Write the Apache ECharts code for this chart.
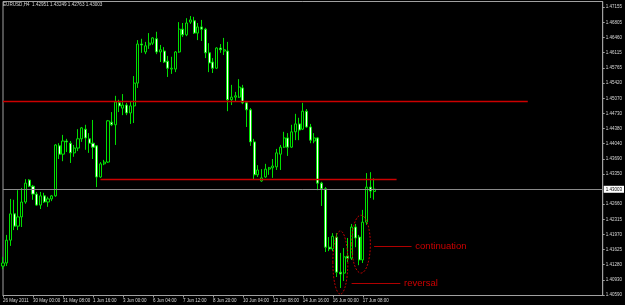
<!DOCTYPE html>
<html><head><meta charset="utf-8">
<script src="https://cdn.jsdelivr.net/npm/echarts@6/dist/echarts.min.js"></script>
<style>html,body{margin:0;padding:0;background:#000;}#c{width:625px;height:305px;}</style>
</head><body><div id="c"></div>
<script>
const symbol = 'EURUSD,H4';
// H4 sessions (day, hours)
const sessions = [
  ['26 May','20'], ['27 May','00 04 08 12 16 20'], ['29 May','20'],
  ['30 May','00 04 08 12 16 20'], ['31 May','00 04 08 12 16 20'], ['1 Jun','00 04 08 12 16 20'],
  ['2 Jun','00 04 08 12 16 20'], ['3 Jun','00 04 08 12 16 20'], ['5 Jun','20'],
  ['6 Jun','00 04 08 12 16 20'], ['7 Jun','00 04 08 12 16 20'], ['8 Jun','00 04 08 12 16 20'],
  ['9 Jun','00 04 08 12 16 20'], ['10 Jun','00 04 08 12 16 20'], ['12 Jun','20'],
  ['13 Jun','00 04 08 12 16 20'], ['14 Jun','00 04 08 12 16 20'], ['15 Jun','00 04 08 12 16 20'],
  ['16 Jun','00 04 08 12 16 20'], ['17 Jun','00 04 08 12 16 20']
];
const xTickLabels = ['26 May 2011','30 May 00:00','31 May 08:00','1 Jun 16:00','3 Jun 00:00','6 Jun 04:00',
  '7 Jun 12:00','8 Jun 20:00','10 Jun 04:00','13 Jun 08:00','14 Jun 16:00','16 Jun 00:00','17 Jun 08:00'];
const yTickLabels = [1.47155,1.46805,1.46460,1.46115,1.45765,1.45420,1.45070,1.44730,1.44380,1.44040,
  1.43690,1.43350,1.42660,1.42315,1.41970,1.41625,1.41280,1.40930,1.40590];

const opens = [
1.4125,1.4132,1.4184,1.4244,1.4216,1.4237,1.4271,1.4321,1.4307,1.4289,
1.4264,1.4285,1.4271,1.4278,1.4285,1.4399,1.4380,1.4410,1.4405,1.4383,
1.4394,1.4415,1.4437,1.4415,1.4405,1.4399,1.4328,1.4358,1.4362,1.4453,
1.4447,1.4497,1.4485,1.4492,1.4474,1.4490,1.4542,1.4631,1.4613,1.4629,
1.4633,1.4643,1.4613,1.4615,1.4592,1.4574,1.4574,1.4613,1.4665,1.4652,
1.4681,1.4684,1.4656,1.4670,1.4665,1.4611,1.4590,1.4576,1.4622,1.4615,
1.4615,1.4504,1.4510,1.4510,1.4531,1.4497,1.4481,1.4408,1.4333,1.4319,
1.4328,1.4346,1.4349,1.4351,1.4380,1.4396,1.4417,1.4396,1.4431,1.4449,
1.4437,1.4478,1.4442,1.4410,1.4417,1.4314,1.4301,1.4168,1.4164,1.4191,
1.4111,1.4109,1.4148,1.4143,1.4214,1.4191,1.4139,1.4225,1.4305,1.42951];
const highs = [
1.4146,1.4196,1.4278,1.4276,1.4298,1.4303,1.4323,1.4323,1.4310,1.4294,
1.4294,1.4292,1.4283,1.4287,1.4403,1.4405,1.4424,1.4415,1.4410,1.4401,
1.4437,1.4442,1.4447,1.4428,1.4458,1.4401,1.4362,1.4367,1.4458,1.4476,
1.4513,1.4504,1.4517,1.4497,1.4501,1.4558,1.4640,1.4643,1.4636,1.4656,
1.4647,1.4659,1.4629,1.4624,1.4604,1.4602,1.4615,1.4681,1.4679,1.4690,
1.4695,1.4693,1.4679,1.4686,1.4668,1.4633,1.4599,1.4624,1.4631,1.4645,
1.4636,1.4538,1.4522,1.4551,1.4538,1.4499,1.4485,1.4415,1.4355,1.4346,
1.4358,1.4351,1.4369,1.4392,1.4401,1.4431,1.4428,1.4447,1.4472,1.4463,
1.4497,1.4483,1.4449,1.4428,1.4419,1.4317,1.4305,1.4191,1.4200,1.4200,
1.4155,1.4166,1.4189,1.4221,1.4221,1.4196,1.4253,1.4337,1.4339,1.43249];
const lows = [
1.4118,1.4125,1.4171,1.4207,1.4207,1.4214,1.4267,1.4305,1.4276,1.4262,
1.4255,1.4269,1.4260,1.4273,1.4283,1.4369,1.4364,1.4385,1.4360,1.4374,
1.4387,1.4408,1.4390,1.4383,1.4369,1.4305,1.4326,1.4355,1.4360,1.4444,
1.4401,1.4476,1.4469,1.4469,1.4449,1.4451,1.4531,1.4611,1.4608,1.4620,
1.4629,1.4608,1.4590,1.4588,1.4556,1.4563,1.4567,1.4611,1.4647,1.4649,
1.4677,1.4654,1.4640,1.4638,1.4599,1.4567,1.4565,1.4574,1.4611,1.4606,
1.4478,1.4492,1.4501,1.4508,1.4494,1.4442,1.4399,1.4323,1.4328,1.4317,
1.4326,1.4333,1.4326,1.4344,1.4344,1.4394,1.4376,1.4394,1.4412,1.4412,
1.4435,1.4440,1.4405,1.4405,1.4298,1.4262,1.4157,1.4159,1.4159,1.4100,
1.4075,1.4091,1.4134,1.4139,1.4168,1.4127,1.4132,1.4219,1.4280,1.42763];
const closes = [
1.4132,1.4184,1.4244,1.4216,1.4237,1.4271,1.4314,1.4307,1.4289,1.4264,
1.4285,1.4271,1.4278,1.4285,1.4401,1.4380,1.4410,1.4408,1.4383,1.4394,
1.4415,1.4440,1.4417,1.4405,1.4396,1.4328,1.4358,1.4362,1.4456,1.4447,
1.4499,1.4490,1.4492,1.4474,1.4490,1.4542,1.4631,1.4629,1.4627,1.4633,
1.4645,1.4613,1.4618,1.4590,1.4576,1.4576,1.4613,1.4665,1.4652,1.4679,
1.4686,1.4656,1.4670,1.4665,1.4611,1.4588,1.4576,1.4622,1.4618,1.4618,
1.4504,1.4510,1.4513,1.4533,1.4497,1.4481,1.4408,1.4333,1.4344,1.4326,
1.4346,1.4349,1.4353,1.4383,1.4396,1.4417,1.4396,1.4431,1.4449,1.4435,
1.4478,1.4442,1.4412,1.4417,1.4314,1.4301,1.4168,1.4164,1.4193,1.4111,
1.4107,1.4146,1.4143,1.4214,1.4189,1.4139,1.4225,1.4305,1.4296,1.43003];

// drawn levels: [startIndex, endIndex, price]
const resistance = [0, 140, 1.4501];
const support = [26, 105, 1.4323];
// annotations
const ellipses = [[88.1, 92.1, 1.4205, 1.4061], [92.9, 97.6, 1.4241, 1.4109]];
const notes = [
  {text: 'continuation', from: 99, to: 109, price: 1.4171, textAt: 109.9},
  {text: 'reversal', from: 92.5, to: 106, price: 1.4086, textAt: 106.6}
];
const totalSlots = 161; // chart shift: empty space on the right

const cats = [];
sessions.forEach(([d, hs]) => hs.split(' ').forEach(h => cats.push(d + ' ' + h + ':00')));
while (cats.length < totalSlots) cats.push('');

const candles = opens.map((o, i) => [o, closes[i], lows[i], highs[i]]);
const n = opens.length;
const bid = closes[n - 1];
const fmt = v => v.toFixed(5);

const chart = echarts.init(document.getElementById('c'), null, {renderer: 'canvas'});
const FONT = 'Liberation Sans';
const RED = '#cc0000';
chart.setOption({
  animation: false,
  backgroundColor: '#000',
  title: {
    text: symbol + '  ' + [opens[n-1], highs[n-1], lows[n-1], closes[n-1]].map(fmt).join(' '),
    left: 3, top: 2.5, padding: 0,
    textStyle: {fontSize: 4.6, color: '#d8d8d8', fontWeight: 'normal', fontFamily: FONT}
  },
  grid: {left: 1, right: 21, top: 1.5, bottom: 9.5, show: true, borderColor: '#a0a0a0', borderWidth: 1, backgroundColor: '#000'},
  xAxis: {
    type: 'category', data: cats, boundaryGap: false,
    axisLine: {lineStyle: {color: '#a0a0a0', width: 1}},
    axisTick: {show: true, length: 2, interval: (i) => i % 8 === 0 && i < n, lineStyle: {color: '#a0a0a0'}},
    axisLabel: {
      interval: 7, align: 'left', margin: 2.5, fontSize: 4.5, color: '#d8d8d8', fontFamily: FONT,
      formatter: (v, i) => (i % 8 === 0 && xTickLabels[i / 8]) ? xTickLabels[i / 8] : ''
    },
    splitLine: {show: false}
  },
  yAxis: {
    type: 'value', position: 'right', min: 1.40579, max: 1.47280,
    axisLine: {show: true, lineStyle: {color: '#a0a0a0', width: 1}},
    axisTick: {show: true, length: 2, customValues: yTickLabels, lineStyle: {color: '#a0a0a0'}},
    axisLabel: {customValues: yTickLabels, formatter: fmt, fontSize: 4.5, color: '#d8d8d8', margin: 3, fontFamily: FONT},
    splitLine: {show: false}
  },
  series: [{
    type: 'candlestick',
    data: candles,
    barWidth: 2.6,
    itemStyle: {color: '#000000', color0: '#ffffff', borderColor: '#00e000', borderColor0: '#00e000', borderWidth: 1},
    markLine: {
      symbol: 'none', silent: true, animation: false,
      label: {show: false},
      data: [
        [{coord: [resistance[0], resistance[2]], lineStyle: {color: RED, width: 1.4, type: 'solid'}}, {coord: [resistance[1], resistance[2]]}],
        [{coord: [support[0], support[2]], lineStyle: {color: RED, width: 1.4, type: 'solid'}}, {coord: [support[1], support[2]]}],
        ...notes.map(nt => [{coord: [nt.from, nt.price], lineStyle: {color: '#b00000', width: 1, type: 'solid'}}, {coord: [nt.to, nt.price]}]),
        {yAxis: bid, lineStyle: {color: '#8a8a8a', width: 1, type: 'solid'},
         label: {show: true, position: 'end', distance: 1, formatter: () => fmt(bid), backgroundColor: '#ffffff', color: '#000',
                 fontSize: 4.5, padding: [1, 2], fontFamily: FONT}}
      ]
    }
  }]
});

const px = (i, p) => chart.convertToPixel({gridIndex: 0}, [i, p]);
const graphics = [];
ellipses.forEach(([i0, i1, pTop, pBot]) => {
  const a = px(i0, pTop), b = px(i1, pBot);
  graphics.push({type: 'ellipse', silent: true,
    shape: {cx: (a[0] + b[0]) / 2, cy: (a[1] + b[1]) / 2, rx: Math.abs(b[0] - a[0]) / 2, ry: Math.abs(b[1] - a[1]) / 2},
    style: {fill: null, stroke: '#c00000', lineWidth: 1, lineDash: [2, 1.5]}, z: 10});
});
notes.forEach(nt => {
  const p = px(nt.textAt, nt.price);
  graphics.push({type: 'text', silent: true, x: p[0], y: p[1],
    style: {text: nt.text, fill: '#cc0000', font: '9.5px "Liberation Sans"', verticalAlign: 'middle', align: 'left'}, z: 10});
});
chart.setOption({graphic: graphics});
</script>
</body></html>
